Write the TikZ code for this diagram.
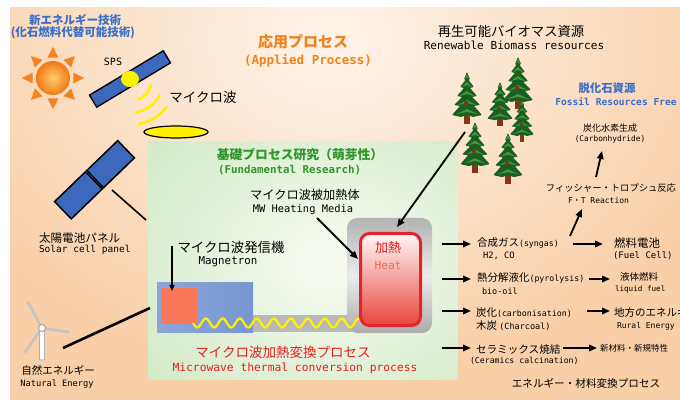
\documentclass[tikz,border=0pt]{standalone}
\usepackage{fontspec}
\usetikzlibrary{arrows.meta,shapes.geometric}
\newfontfamily\jpf{Noto Sans CJK JP}
\newfontfamily\mnf{DejaVu Sans Mono}
\newcommand\fsz[1]{\fontsize{#1}{#1}\selectfont}

\definecolor{bgpeach}{RGB}{249,207,168}
\definecolor{bglight}{RGB}{254,244,234}
\definecolor{grnedge}{RGB}{200,230,185}
\definecolor{grnmid}{RGB}{248,251,243}
\definecolor{tblue}{RGB}{60,110,200}
\definecolor{torange}{RGB}{240,130,30}
\definecolor{tgreen}{RGB}{45,150,45}
\definecolor{tred}{RGB}{230,30,30}
\definecolor{heatlt}{RGB}{235,110,90}
\definecolor{panelblue}{RGB}{60,105,190}
\definecolor{sunlt}{RGB}{255,205,110}
\definecolor{sundk}{RGB}{240,120,20}
\definecolor{rayor}{RGB}{245,130,30}
\definecolor{mwyellow}{RGB}{255,240,0}
\definecolor{magblue}{RGB}{120,150,210}
\definecolor{magorange}{RGB}{250,120,90}
\definecolor{treedark}{RGB}{25,95,35}
\definecolor{treelight}{RGB}{70,150,60}
\definecolor{trunkbrown}{RGB}{130,55,25}
\definecolor{heatred}{RGB}{230,35,40}
\definecolor{heatbot}{RGB}{232,70,60}
\definecolor{bladegray}{RGB}{195,195,205}

\tikzset{
  txt/.style={inner sep=0pt, outer sep=0pt},
  txtw/.style={txt, anchor=west},
  arr/.style={-{Triangle[length=8pt,width=6.5pt]}, line width=1.8pt},
  thinarr/.style={-{Triangle[length=6pt,width=5pt]}, line width=1.3pt},
  pics/conifer/.style={code={
    \fill[trunkbrown] (-3,40) rectangle (3,52);
    \fill[treedark, rounded corners=0.8pt] (0,0) -- (3,7) -- (1.5,8) -- (7,15) -- (3,16)
      -- (10,24) -- (5,25) -- (13,33) -- (7,34) -- (15,43) -- (6,45) -- (0,43)
      -- (-6,45) -- (-15,43) -- (-7,34) -- (-13,33) -- (-5,25) -- (-10,24)
      -- (-3,16) -- (-7,15) -- (-1.5,8) -- (-3,7) -- cycle;
    \foreach \t/\w in {8/3, 16/6, 25/9, 34/11, 43/13}
      \fill[treelight] (0,\t-6) -- (\w*0.85,\t-0.8) -- (0,\t-3) -- (-\w*0.85,\t-0.8) -- cycle;
    \fill[trunkbrown] (-3,29) rectangle (1,33);
  }}
}

\begin{document}
\begin{tikzpicture}[x=1pt,y=-1pt]
\useasboundingbox (0,0) rectangle (680,403);
\fill[white] (0,0) rectangle (680,403);

% peach backdrop with a light glow at the top
\fill[bgpeach] (10,8) rectangle (680,400);
\begin{scope}
  \clip (10,8) rectangle (680,400);
  \shade[inner color=bglight, outer color=bgpeach] (330,40) ellipse [x radius=430, y radius=340];
\end{scope}

% fundamental research area
\begin{scope}
  \clip (148,142) rectangle (458,379);
  \fill[grnedge] (148,142) rectangle (458,379);
  \shade[inner color=grnmid, outer color=grnedge] (330,262) ellipse [x radius=300, y radius=235];
\end{scope}

% sun
\coordinate (sun) at (53,78);
\foreach \a in {0,45,...,315}
  \fill[rayor, shift={(sun)}] (\a:31) -- (\a+15:21) -- (\a-15:21) -- cycle;
\shade[inner color=sunlt, outer color=sundk] (sun) circle (17);

% new energy title
\node[txt, text=tblue] (newtech) at (75,20) {\fsz{11.5}\jpf\bfseries 新エネルギー技術};
\node[txt, text=tblue] (newtech2) at (73,33) {\fsz{11.5}\jpf\bfseries (化石燃料代替可能技術)};

% space solar power satellite
\node[txt, rotate=31, minimum width=86pt, minimum height=14pt, fill=panelblue, draw=black, line width=1.4pt] (sps) at (130,79) {};
\fill[mwyellow] (sps.center) ellipse [x radius=9, y radius=8];
\node[txt] (spslbl) at (113,62) {\fsz{10}\mnf SPS};
\foreach \r/\a/\b in {22/15/70, 34/28/82, 46/36/80}
  \draw[mwyellow, line width=2.6pt, shift={(sps.center)}] (\a:\r) arc[start angle=\a, end angle=\b, radius=\r];
\node[txt] (mwlbl) at (203,97) {\fsz{13.5}\jpf マイクロ波};
\node[txt, ellipse, minimum width=64pt, minimum height=12pt, fill=mwyellow, draw=black, line width=1.2pt] (rectenna) at (176,132) {};

% applied process title
\node[txt, text=torange] (app1) at (303,42) {\fsz{15}\jpf\bfseries 応用プロセス};
\node[txt, text=torange] (app2) at (308,61) {\fsz{12.5}\mnf\bfseries (Applied Process)};

% biomass
\node[txt] (bio1) at (511,31) {\fsz{13.3}\jpf 再生可能バイオマス資源};
\node[txt] (bio2) at (514,45) {\fsz{11.1}\mnf Renewable Biomass resources};
\pic at (518,57) {conifer};
\pic[scale=0.85] at (500,82) {conifer};
\pic[scale=0.8] at (522,100) {conifer};
\pic at (467,72) {conifer};
\pic[scale=0.98] at (475,122) {conifer};
\pic[scale=0.98] at (508,133) {conifer};
\coordinate (bioTail) at (465,132);

% fossil free
\node[txt, text=tblue] (ff1) at (607,88) {\fsz{11.4}\jpf\bfseries 脱化石資源};
\node[txt, text=tblue] (ff2) at (616,102) {\fsz{9.6}\mnf\bfseries Fossil Resources Free};
\node[txt] (ch1) at (610,128) {\fsz{9}\jpf 炭化水素生成};
\node[txt] (ch2) at (610,139) {\fsz{7.8}\mnf (Carbonhydride)};
\node[txt] (ft1) at (611,188) {\fsz{9.3}\jpf フィッシャー・トロプシュ反応};
\node[txtw] (ft2) at (568,201) {\fsz{8}\mnf F\jpf ・\mnf T Reaction};
\coordinate (ftA) at (596,177);
\coordinate (ftB) at (602,151);
\draw[arr] (ftA) -- (ftB);

% solar cell panel
\node[txt, rotate=44, minimum width=43pt, minimum height=24pt, fill=panelblue, draw=black, line width=1.5pt] (panA) at (110.6,164.2) {};
\node[txt, rotate=44, minimum width=43pt, minimum height=24pt, fill=panelblue, draw=black, line width=1.5pt] (panB) at (78.4,195.3) {};
\coordinate (standA) at (112,190);
\coordinate (standB) at (146,220);
\draw[line width=1.6pt] (standA) -- (standB);
\node[txtw] (sol1) at (39,238) {\fsz{11.6}\jpf 太陽電池パネル};
\node[txtw] (sol2) at (39,250) {\fsz{9.5}\mnf Solar cell panel};

% wind turbine
\coordinate (hub) at (42,328);
\draw[bladegray, line width=2.6pt, line cap=round] (hub) -- (28,302);
\draw[bladegray, line width=2.6pt, line cap=round] (hub) -- (68,332);
\draw[bladegray, line width=2.6pt, line cap=round] (hub) -- (25,352);
\filldraw[fill=white, draw=gray!60, line width=0.8pt, rounded corners=1pt] (39.5,330) rectangle (44.5,360);
\filldraw[fill=white, draw=gray!70, line width=1pt] (hub) circle (3.5);
\node[txt] (nat1) at (58,370) {\fsz{10.5}\jpf 自然エネルギー};
\node[txt] (nat2) at (57,384) {\fsz{8.7}\mnf Natural Energy};
\coordinate (windEnd) at (63,348);
\coordinate (magIn) at (150,308);
\draw[line width=2.6pt] (windEnd) -- (magIn);

% fundamental research title
\node[txt, text=tgreen] (fr1) at (300,155) {\fsz{12.8}\jpf\bfseries 基礎プロセス研究（萌芽性）};
\node[txtw, text=tgreen] (fr2) at (218,170) {\fsz{10.8}\mnf\bfseries (Fundamental Research)};

% waveguide and heated medium
\fill[gray!55] (253,315) rectangle (352,332);
\node[txt, rounded corners=10pt, minimum width=85pt, minimum height=115pt, top color=gray!60, bottom color=gray!65, middle color=gray!15] (cavity) at (389.5,275.5) {};
\shade[left color=magblue!85, middle color=magblue!10, right color=magblue] (157,283) rectangle (253,332);
\node[txt, minimum width=36pt, minimum height=36pt, fill=magorange] (mag) at (179,306) {};
\draw[mwyellow, line width=2.2pt] plot[domain=193:362, samples=160, smooth] (\x,{323+4.5*sin((\x-193)/17*360)});
\node[txt, draw=heatred, line width=3pt, rounded corners=9pt, minimum width=60pt, minimum height=92pt, top color=red!3, middle color=red!25, bottom color=heatbot] (heat) at (390.5,279.5) {};
\node[txt, text=tred] (heat1) at (388,248) {\fsz{13}\jpf 加熱};
\node[txt, text=heatlt] (heat2) at (388,265) {\fsz{11.2}\mnf Heat};

\node[txt] (med1) at (305,195) {\fsz{12.2}\jpf マイクロ波被加熱体};
\node[txt] (med2) at (303,210) {\fsz{10.4}\mnf MW Heating Media};
\node[txt] (mag1) at (231,247) {\fsz{13.4}\jpf マイクロ波発信機};
\node[txt] (mag2) at (228,262) {\fsz{10.8}\mnf Magnetron};
\node[txt, text=tred] (conv1) at (283,352) {\fsz{13.5}\jpf マイクロ波加熱変換プロセス};
\node[txt, text=tred] (conv2) at (295,368) {\fsz{11.3}\mnf Microwave thermal conversion process};

\coordinate (medTail) at (317,218);
\coordinate (medHead) at (358,259);
\draw[arr] (medTail) -- (medHead);
\coordinate (magTail) at (172,246);
\coordinate (magHead) at (172,291);
\draw[thinarr] (magTail) -- (magHead);
\coordinate (heatTop) at (397,227);
\draw[arr] (bioTail) -- (heatTop);

% conversion products
\node[txtw] (syn) at (477,243) {\fsz{10.5}\jpf 合成ガス\fsz{8.3}\mnf (syngas)};
\node[txtw] (h2co) at (483,256) {\fsz{8.8}\mnf H2, CO};
\node[txtw] (fc1) at (614,243) {\fsz{11.5}\jpf 燃料電池};
\node[txtw] (fc2) at (613,256) {\fsz{9}\mnf (Fuel Cell)};
\node[txtw] (pyr) at (477,278) {\fsz{10.5}\jpf 熱分解液化\fsz{8.3}\mnf (pyrolysis)};
\node[txtw] (oil) at (482,291) {\fsz{8.5}\mnf bio-oil};
\node[txtw] (lf1) at (620,277) {\fsz{9.5}\jpf 液体燃料};
\node[txtw] (lf2) at (615,289) {\fsz{7.6}\mnf liquid fuel};
\node[txtw] (carb) at (476,313) {\fsz{10.5}\jpf 炭化\fsz{8.3}\mnf (carbonisation)};
\node[txtw] (charc) at (476,326) {\fsz{10.5}\jpf 木炭 \fsz{8.5}\mnf (Charcoal)};
\node[txtw] (rural1) at (614,312) {\fsz{10.5}\jpf 地方のエネルギー};
\node[txtw] (rural2) at (617,326) {\fsz{8}\mnf Rural Energy};
\node[txtw] (cer1) at (476,349) {\fsz{10.6}\jpf セラミックス焼結};
\node[txtw] (cer2) at (470,361) {\fsz{8.2}\mnf (Ceramics calcination)};
\node[txtw] (nm) at (600,348) {\fsz{8.5}\jpf 新材料・新規特性};
\node[txt] (emc) at (586,383) {\fsz{10.6}\jpf エネルギー・材料変換プロセス};

\foreach \y in {244, 279, 311, 348}
  \draw[arr] ([xshift=10pt]cavity.east |- 0,\y) -- (471,\y);
\draw[arr] (573,244) -- ([xshift=-11pt]fc1.west |- 0,244);
\draw[arr] (589,279) -- ([xshift=-10pt]lf1.west |- 0,279);
\draw[arr] (587,311) -- ([xshift=-4pt]rural1.west |- 0,311);
\draw[arr] (563,348) -- ([xshift=-3pt]nm.west |- 0,348);
\coordinate (synUp) at (570,236);
\coordinate (ftIn) at (582,209);
\draw[arr] (synUp) -- (ftIn);
\end{tikzpicture}
\end{document}
